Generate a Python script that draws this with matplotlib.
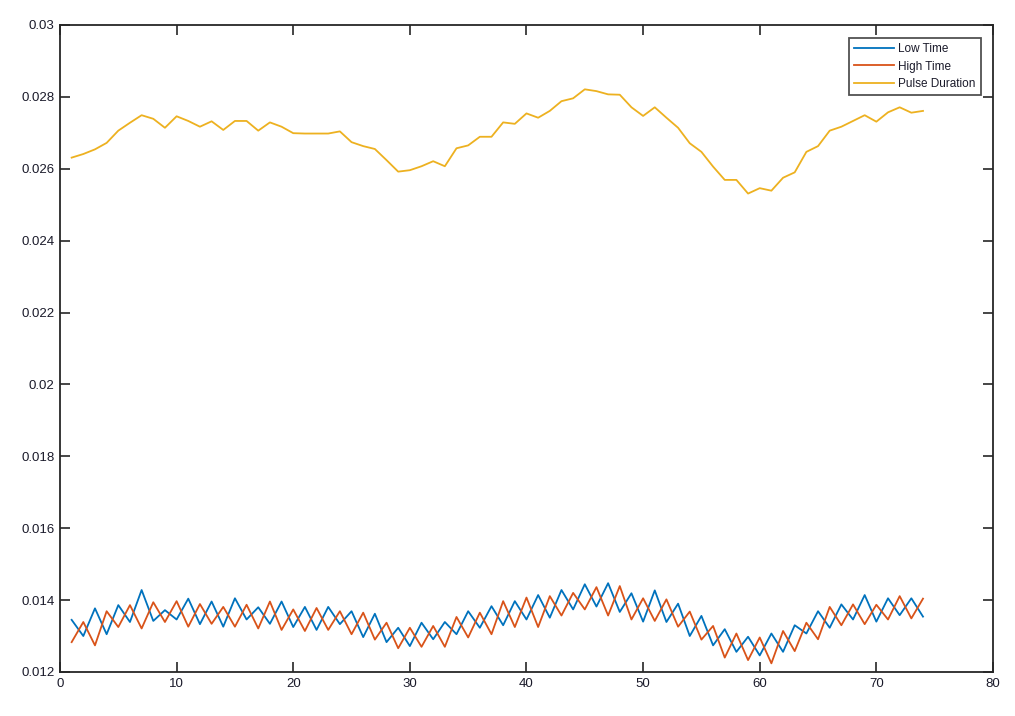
import numpy as np
import matplotlib.pyplot as plt
from matplotlib.ticker import FuncFormatter

plt.rcParams['font.family'] = ['Liberation Sans', 'DejaVu Sans']

x = np.arange(1, 75)

low_time = [0.01345, 0.01300, 0.01377, 0.01305, 0.01386, 0.01339, 0.01428, 0.01342, 0.01372, 0.01346,
            0.01404, 0.01333, 0.01396, 0.01326, 0.01405, 0.01346, 0.01380, 0.01334, 0.01396, 0.01325,
            0.01381, 0.01317, 0.01381, 0.01333, 0.01369, 0.01297, 0.01362, 0.01283, 0.01323, 0.01272,
            0.01337, 0.01291, 0.01339, 0.01305, 0.01369, 0.01323, 0.01383, 0.01330, 0.01397, 0.01346,
            0.01414, 0.01351, 0.01428, 0.01374, 0.01444, 0.01382, 0.01447, 0.01367, 0.01419, 0.01340,
            0.01427, 0.01339, 0.01390, 0.01300, 0.01356, 0.01274, 0.01319, 0.01256, 0.01298, 0.01246,
            0.01307, 0.01256, 0.01330, 0.01307, 0.01369, 0.01323, 0.01388, 0.01346, 0.01414, 0.01340,
            0.01405, 0.01358, 0.01405, 0.01354]

high_time = [0.01283, 0.01339, 0.01274, 0.01369, 0.01325, 0.01386, 0.01321, 0.01394, 0.01339, 0.01397,
             0.01326, 0.01389, 0.01334, 0.01381, 0.01326, 0.01387, 0.01321, 0.01396, 0.01317, 0.01374,
             0.01314, 0.01378, 0.01317, 0.01369, 0.01305, 0.01365, 0.01290, 0.01337, 0.01266, 0.01323,
             0.01270, 0.01328, 0.01270, 0.01353, 0.01296, 0.01365, 0.01305, 0.01397, 0.01325, 0.01407,
             0.01325, 0.01411, 0.01357, 0.01420, 0.01374, 0.01436, 0.01357, 0.01439, 0.01346, 0.01405,
             0.01342, 0.01402, 0.01326, 0.01368, 0.01290, 0.01328, 0.01240, 0.01307, 0.01233, 0.01296,
             0.01224, 0.01314, 0.01258, 0.01337, 0.01291, 0.01381, 0.01330, 0.01388, 0.01333, 0.01387,
             0.01346, 0.01411, 0.01349, 0.01404]

pulse_duration = [0.02631, 0.02641, 0.02654, 0.02672, 0.02706, 0.02728, 0.02749, 0.02739, 0.02714, 0.02746,
                  0.02733, 0.02717, 0.02732, 0.02708, 0.02733, 0.02733, 0.02706, 0.02729, 0.02717, 0.02699,
                  0.02698, 0.02698, 0.02698, 0.02704, 0.02674, 0.02663, 0.02655, 0.02624, 0.02592, 0.02596,
                  0.02607, 0.02621, 0.02607, 0.02657, 0.02665, 0.02689, 0.02689, 0.02729, 0.02725, 0.02754,
                  0.02742, 0.02761, 0.02788, 0.02796, 0.02821, 0.02816, 0.02807, 0.02806, 0.02771, 0.02747,
                  0.02771, 0.02742, 0.02714, 0.02671, 0.02647, 0.02606, 0.02569, 0.02569, 0.02531, 0.02546,
                  0.02539, 0.02575, 0.02590, 0.02647, 0.02663, 0.02706, 0.02717, 0.02733, 0.02749, 0.02731,
                  0.02757, 0.02771, 0.02756, 0.02761]

fig = plt.figure(figsize=(10.15, 7.16), dpi=100)
ax = fig.add_axes([0.0591, 0.0615, 0.9192, 0.9036])

ax.plot(x, low_time, color='#0072BD', linewidth=1.3, label='Low Time')
ax.plot(x, high_time, color='#D95319', linewidth=1.3, label='High Time')
ax.plot(x, pulse_duration, color='#EDB120', linewidth=1.3, label='Pulse Duration')

ax.set_xlim(0, 80)
ax.set_ylim(0.012, 0.03)
ax.set_xticks(np.arange(0, 81, 10))
ax.set_yticks(np.arange(0.012, 0.0301, 0.002))
ax.yaxis.set_major_formatter(FuncFormatter(lambda v, p: '%g' % round(v, 4)))

ax.tick_params(direction='in', length=7, width=1.2, top=True, right=True, pad=4,
               labelsize=9.5, colors='#262626', labelcolor='#1a1a2a')
for s in ax.spines.values():
    s.set_color('#262626')
    s.set_linewidth(1.3)

leg = ax.legend(loc='upper right', fontsize=8.5, frameon=True, fancybox=False,
                handlelength=3.4, handletextpad=0.35, borderpad=0.45, labelspacing=0.45,
                borderaxespad=0, bbox_to_anchor=(0.987, 0.98))
leg.get_frame().set_edgecolor('#262626')
leg.get_frame().set_linewidth(1.3)
for t in leg.get_texts():
    t.set_color('#1a1a2a')

fig.savefig('out.png', dpi=100)
